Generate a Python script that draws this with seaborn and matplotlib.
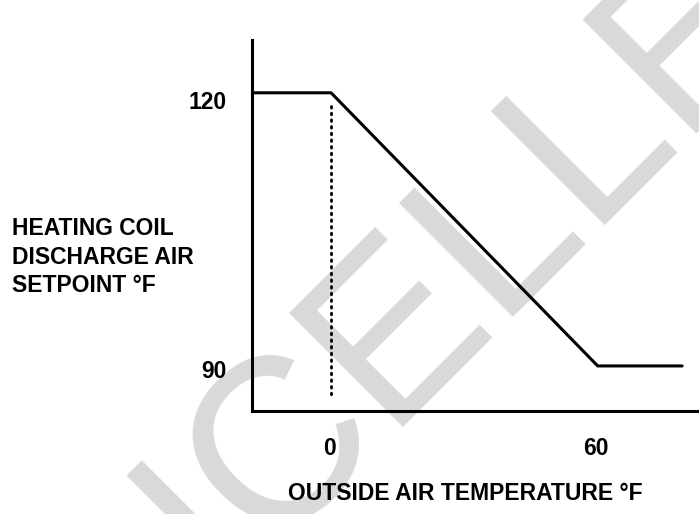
import matplotlib
matplotlib.use("Agg")
import matplotlib.pyplot as plt
import matplotlib.transforms as mtrans
import seaborn as sns

# data
oat = [-17.8, 0, 60, 79]          # outside air temp, F
setpoint = [120, 120, 90, 90]     # discharge air setpoint, F
dot_x = [0, 0]
dot_y = [118.6, 86.5]
x_ticks = [0, 60]
x_labels = ["0", "60"]
y_ticks = [90, 120]
y_labels = ["90", "120"]

sns.set_style("white")
plt.rcParams["font.family"] = ["Liberation Sans", "DejaVu Sans"]
plt.rcParams["text.color"] = "black"

W, H = 699, 514
fig = plt.figure(figsize=(W / 100, H / 100), dpi=100)

# light grey watermark behind everything
fig.text(219 / W, 1 - 590 / H, "ICELLE", fontsize=168, color="#d9d9d9",
         rotation=45, rotation_mode="anchor", ha="left", va="baseline",
         zorder=-1)

ax = fig.add_axes([252 / W, 1 - 411 / H, 1 - 252 / W, (411 - 40) / H])
ax.set_facecolor("none")

sns.lineplot(x=oat, y=setpoint, ax=ax, color="black", linewidth=2.2,
             estimator=None, sort=False)
sns.lineplot(x=dot_x, y=dot_y, ax=ax, color="black", linewidth=2.0,
             estimator=None, sort=False, linestyle=(0, (0.6, 1.8)),
             dash_capstyle="round")

ax.set_xlim(-17.8, 82.8)
ax.set_ylim(85.05, 125.8)
ax.set_xticks(x_ticks)
ax.set_xticklabels(x_labels, fontsize=16.5, fontweight="bold", color="black")
ax.set_yticks(y_ticks)
ax.set_yticklabels(y_labels, fontsize=16.5, fontweight="bold", color="black")
ax.tick_params(axis="x", length=0, pad=19)
ax.tick_params(axis="y", length=0, pad=18.5)

# the reference sets its y labels a little below the gridline
for lab, dy in zip(ax.get_yticklabels(), [-3, -7]):
    lab.set_transform(lab.get_transform() +
                      mtrans.ScaledTranslation(0, dy / 100, fig.dpi_scale_trans))
for lab in ax.get_xticklabels():
    lab.set_transform(lab.get_transform() +
                      mtrans.ScaledTranslation(-1.5 / 100, 0, fig.dpi_scale_trans))

for s in ["top", "right"]:
    ax.spines[s].set_visible(False)
for s in ["left", "bottom"]:
    ax.spines[s].set_linewidth(2.2)
    ax.spines[s].set_color("black")

fig.text(12 / W, 1 - 257 / H, "HEATING COIL\nDISCHARGE AIR\nSETPOINT °F",
         fontsize=16.5, fontweight="bold", ha="left", va="center",
         linespacing=1.3)
fig.text(465 / W, 1 - 493 / H, "OUTSIDE AIR TEMPERATURE °F",
         fontsize=16.5, fontweight="bold", ha="center", va="center")

fig.savefig("out.png", dpi=100)
